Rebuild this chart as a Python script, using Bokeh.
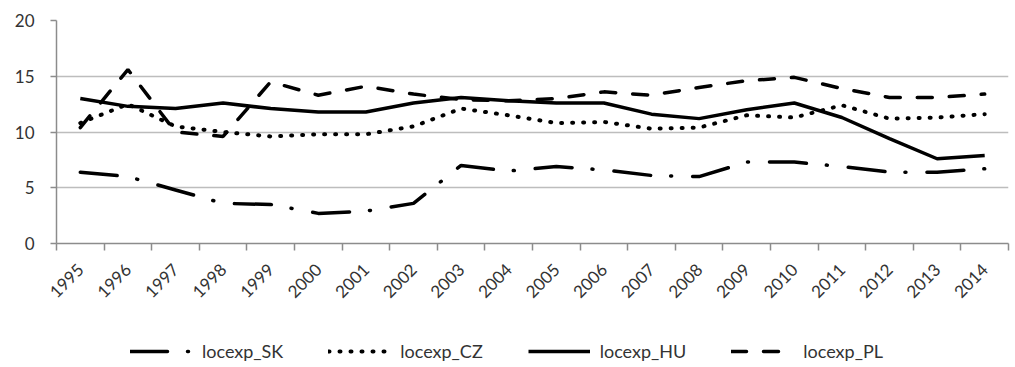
import math
from bokeh.plotting import figure
from bokeh.layouts import column
from bokeh.models import FixedTicker, Legend, LegendItem, Range1d
from bokeh.embed import file_html
from bokeh.resources import INLINE

years = [1995, 1996, 1997, 1998, 1999, 2000, 2001, 2002, 2003, 2004,
         2005, 2006, 2007, 2008, 2009, 2010, 2011, 2012, 2013, 2014]
locexp_SK = [6.4, 6.0, 4.8, 3.6, 3.5, 2.7, 2.9, 3.6, 7.0, 6.5,
             6.9, 6.6, 6.1, 6.0, 7.3, 7.3, 6.9, 6.4, 6.4, 6.7]
locexp_CZ = [10.8, 12.5, 10.5, 10.0, 9.6, 9.8, 9.8, 10.5, 12.1, 11.5,
             10.8, 10.9, 10.3, 10.4, 11.5, 11.3, 12.4, 11.2, 11.3, 11.6]
locexp_HU = [13.0, 12.3, 12.1, 12.6, 12.1, 11.8, 11.8, 12.6, 13.1, 12.8,
             12.6, 12.6, 11.6, 11.2, 12.0, 12.6, 11.3, 9.4, 7.6, 7.9]
locexp_PL = [10.4, 15.6, 10.0, 9.6, 14.5, 13.3, 14.1, 13.4, 12.9, 12.8,
             13.0, 13.6, 13.3, 14.0, 14.6, 14.9, 13.9, 13.1, 13.1, 13.4]
series_names = ["locexp_SK", "locexp_CZ", "locexp_HU", "locexp_PL"]
y_ticks = [0, 5, 10, 15, 20]

FONT = "Lato"
TXT = "#333333"
AX = "#8c8c8c"

STYLES = [
    dict(line_width=3.5, line_dash="37 20 1 21", line_cap="round"),
    dict(line_width=4, line_dash="1 10", line_cap="round"),
    dict(line_width=3.5),
    dict(line_width=3.5, line_dash="15 17", line_cap="round"),
]
SERIES = [locexp_SK, locexp_CZ, locexp_HU, locexp_PL]

p = figure(frame_width=952, frame_height=223, output_backend="svg", toolbar_location=None,
           x_range=Range1d(years[0] - 0.5, years[-1] + 0.5),
           y_range=Range1d(0, 20))
p.min_border_left = 56
p.min_border_top = 20
p.min_border_right = 7
p.min_border_bottom = 84
p.outline_line_color = None

for vals, st in zip(SERIES, STYLES):
    p.line(years, vals, line_color="black", **st)

p.xgrid.grid_line_color = None
p.ygrid.grid_line_color = "#bdbdbd"
p.ygrid.grid_line_width = 1.5
p.yaxis.ticker = FixedTicker(ticks=y_ticks)
p.xaxis.ticker = FixedTicker(ticks=years,
                             minor_ticks=[y - 0.5 for y in years] + [years[-1] + 0.5])
p.xaxis.major_label_overrides = {y: str(y) for y in years}
p.xaxis.major_label_orientation = math.pi / 4
p.xaxis.major_tick_out = 0
p.xaxis.major_tick_in = 0
p.xaxis.minor_tick_out = 7
p.xaxis.minor_tick_in = 0
p.yaxis.major_tick_out = 6
p.yaxis.major_tick_in = 0
for ax in (p.xaxis, p.yaxis):
    ax.axis_line_color = AX
    ax.axis_line_width = 1.5
    ax.major_tick_line_color = AX
    ax.major_tick_line_width = 1.5
    ax.major_label_text_font = FONT
    ax.major_label_text_font_size = "17px"
    ax.major_label_text_color = TXT
p.xaxis.minor_tick_line_color = AX
p.xaxis.minor_tick_line_width = 1.5
p.yaxis.minor_tick_line_color = None
p.xaxis.major_label_standoff = 16
p.yaxis.major_label_standoff = 16

# legend strip below the chart (same series, drawn out of view)
lg = figure(width=1015, height=40, output_backend="svg", toolbar_location=None,
            x_range=Range1d(years[0] - 0.5, years[-1] + 0.5),
            y_range=Range1d(100, 101),
            x_axis_location=None, y_axis_location=None)
lg.min_border_left = 0
lg.min_border_right = 0
lg.min_border_top = 0
lg.min_border_bottom = 0
lg.outline_line_color = None
lg.xgrid.grid_line_color = None
lg.ygrid.grid_line_color = None
items = []
for name, vals, st in zip(series_names, SERIES, STYLES):
    r = lg.line(years, vals, line_color="black", **st)
    items.append(LegendItem(label=name, renderers=[r]))

legend = Legend(items=items, orientation="horizontal", location=(74, 5))
legend.border_line_color = None
legend.background_fill_alpha = 0
legend.label_text_font = FONT
legend.label_text_font_size = "18px"
legend.label_text_color = TXT
legend.glyph_width = 62
legend.glyph_height = 20
legend.label_standoff = 10
legend.spacing = 45
legend.padding = 0
legend.margin = 0
lg.add_layout(legend)

layout = column(p, lg, spacing=0)
open("out.html", "w").write(file_html(layout, INLINE))
